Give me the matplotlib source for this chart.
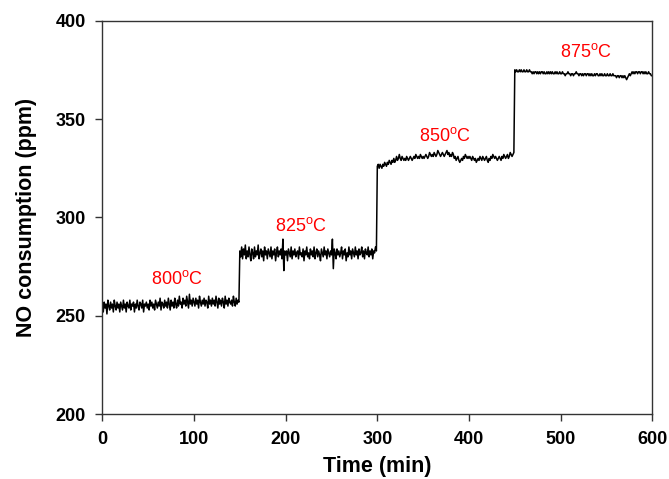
import numpy as np
from matplotlib import pyplot as plt

plt.rc('font', family=['Liberation Sans', 'DejaVu Sans'])

# NO consumption (ppm) at 1 min steps
# 800 C, t = 0..149
seg_800 = [255, 252, 257, 254, 256, 251, 258, 255, 253, 257,
           254, 256, 252, 258, 255, 253, 257, 254, 256, 252,
           257, 255, 253, 258, 254, 256, 252, 257, 255, 254,
           258, 253, 256, 255, 257, 252, 256, 254, 258, 255,
           253, 257, 256, 254, 258, 252, 256, 255, 257, 254,
           256, 253, 258, 255, 257, 254, 256, 253, 258, 256,
           254, 257, 255, 259, 253, 257, 256, 254, 258, 255,
           257, 254, 259, 256, 253, 258, 255, 257, 254, 259,
           256, 254, 258, 255, 260, 256, 257, 254, 259, 256,
           258, 255, 260, 257, 254, 261, 256, 258, 255, 259,
           257, 255, 259, 256, 258, 254, 260, 257, 255, 258,
           256, 259, 255, 258, 257, 254, 260, 256, 258, 255,
           259, 256, 258, 255, 260, 257, 254, 259, 256, 258,
           255, 259, 257, 254, 260, 256, 258, 255, 259, 257,
           256, 258, 255, 260, 257, 255, 259, 256, 258, 257]
# 825 C, t = 150..299
seg_825 = [283, 280, 285, 279, 284, 281, 286, 279, 283, 280,
           285, 281, 278, 284, 282, 279, 285, 280, 283, 281,
           286, 279, 282, 284, 280, 283, 278, 285, 281, 283,
           279, 284, 282, 280, 285, 279, 283, 281, 284, 278,
           282, 285, 280, 283, 281, 284, 279, 289, 273, 283,
           281, 283, 278, 284, 282, 280, 285, 279, 283, 281,
           284, 280, 282, 283, 279, 285, 281, 282, 280, 284,
           278, 283, 281, 285, 280, 282, 279, 284, 281, 283,
           280, 285, 279, 282, 284, 280, 283, 281, 278, 284,
           282, 280, 285, 281, 283, 279, 284, 282, 280, 283,
           281, 289, 274, 284, 282, 279, 284, 281, 283, 280,
           282, 285, 279, 283, 281, 284, 278, 282, 280, 285,
           281, 283, 279, 284, 282, 280, 285, 281, 283, 279,
           284, 281, 282, 285, 280, 283, 279, 284, 282, 281,
           285, 280, 283, 281, 284, 279, 283, 282, 285, 283]
# 850 C, t = 300..449
seg_850 = [326, 327, 325, 327, 326, 325, 327, 326, 328, 327,
           326, 328, 327, 329, 328, 327, 329, 328, 330, 328,
           329, 331, 329, 330, 332, 330, 329, 331, 330, 329,
           330, 329, 331, 330, 329, 330, 331, 330, 329, 330,
           331, 330, 332, 331, 330, 331, 330, 332, 331, 330,
           331, 330, 331, 332, 331, 330, 331, 333, 332, 331,
           332, 331, 333, 332, 331, 332, 334, 333, 332, 331,
           332, 333, 332, 331, 332, 333, 334, 332, 333, 331,
           332, 331, 333, 332, 330, 331, 329, 330, 331, 329,
           328, 329, 330, 329, 331, 330, 332, 331, 330, 331,
           330, 331, 330, 329, 331, 330, 329, 330, 328, 329,
           330, 329, 331, 330, 329, 331, 330, 329, 330, 331,
           329, 328, 330, 329, 331, 330, 332, 331, 330, 331,
           330, 329, 330, 331, 330, 329, 331, 330, 332, 331,
           330, 331, 332, 330, 331, 333, 332, 331, 332, 333]
# 875 C, t = 450..600
seg_875 = [375, 374, 375, 374, 374, 375, 374, 375, 374, 374,
           375, 374, 374, 375, 374, 374, 375, 374, 374, 373,
           374, 373, 374, 374, 373, 374, 373, 374, 373, 374,
           374, 373, 374, 373, 373, 374, 373, 374, 373, 374,
           373, 374, 373, 373, 374, 373, 374, 373, 373, 374,
           373, 373, 374, 373, 373, 372, 373, 373, 374, 373,
           373, 372, 373, 373, 372, 373, 373, 374, 373, 373,
           372, 373, 373, 372, 373, 372, 373, 373, 372, 373,
           373, 372, 373, 372, 373, 372, 372, 373, 372, 373,
           373, 372, 372, 373, 372, 373, 372, 372, 373, 372,
           372, 373, 372, 372, 373, 372, 372, 373, 372, 372,
           372, 371, 372, 372, 371, 372, 372, 371, 372, 371,
           372, 371, 370, 371, 372, 373, 372, 373, 374, 373,
           374, 373, 374, 374, 373, 374, 374, 373, 374, 374,
           373, 374, 373, 374, 373, 373, 374, 373, 373, 372,
           372]

labels = ['800', '825', '850', '875']
label_t = [81, 217, 374, 528]
label_ppm = [268.5, 295.5, 341.5, 384]

no_ppm = seg_800 + seg_825 + seg_850 + seg_875
time = np.arange(len(no_ppm))

fig = plt.figure(figsize=(6.69, 4.79), dpi=100)
ax = fig.add_axes([0.153, 0.135, 0.822, 0.822])

ax.plot(time, no_ppm, color='black', lw=1.1)

for lab, t, p in zip(labels, label_t, label_ppm):
    ax.text(t, p, lab + r'$^\mathregular{o}$C', color='red', fontsize=13,
            ha='center', va='center')

ax.set_xlim(0, 600)
ax.set_ylim(200, 400)
ax.set_xticks(range(0, 601, 100))
ax.set_yticks(range(200, 401, 50))

for s in ax.spines.values():
    s.set_color('#333333')
    s.set_linewidth(1.0)
ax.tick_params(direction='out', length=5, width=1, color='#333333',
               labelsize=13, pad=7)
for lab in ax.get_xticklabels() + ax.get_yticklabels():
    lab.set_fontweight('bold')

ax.set_xlabel('Time (min)', fontsize=15.5, fontweight='bold', labelpad=6)
ax.set_ylabel('NO consumption (ppm)', fontsize=15.5, fontweight='bold', labelpad=13)

plt.savefig('out.png', dpi=100)
